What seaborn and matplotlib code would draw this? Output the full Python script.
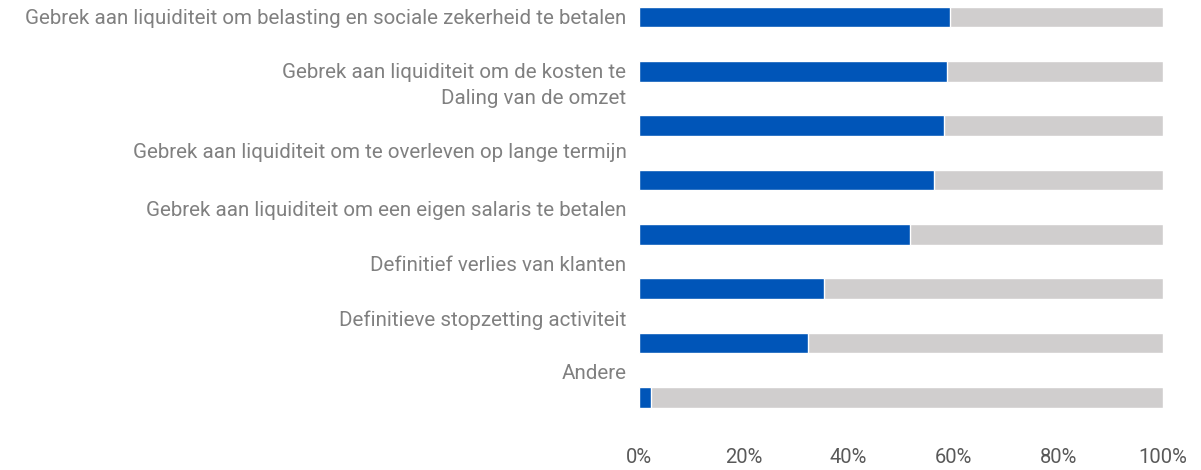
import pandas as pd
import matplotlib.pyplot as plt
import seaborn as sns

categories = [
    "Gebrek aan liquiditeit om belasting en sociale zekerheid te betalen",
    "Gebrek aan liquiditeit om de kosten te betalen",
    "Daling van de omzet",
    "Gebrek aan liquiditeit om te overleven op lange termijn",
    "Gebrek aan liquiditeit om een eigen salaris te betalen",
    "Definitief verlies van klanten",
    "Definitieve stopzetting activiteit",
    "Andere",
]
values = [59.4, 58.8, 58.2, 56.3, 51.7, 35.4, 32.3, 2.3]

# labels as they appear in the source (second one is truncated, rest sit half a row up)
tick_labels = [
    "Gebrek aan liquiditeit om belasting en sociale zekerheid te betalen",
    "Gebrek aan liquiditeit om de kosten te",
    "Daling van de omzet",
    "Gebrek aan liquiditeit om te overleven op lange termijn",
    "Gebrek aan liquiditeit om een eigen salaris te betalen",
    "Definitief verlies van klanten",
    "Definitieve stopzetting activiteit",
    "Andere",
]
tick_pos = [0, 0.98, 1.46, 2.46, 3.52, 4.54, 5.55, 6.53]
xticks = [0, 20, 40, 60, 80, 100]

df = pd.DataFrame({"cat": categories, "val": values, "total": [100] * len(values)})

sns.set_style("white")
plt.rcParams["font.family"] = ["Roboto", "DejaVu Sans"]

fig = plt.figure(figsize=(12.01, 4.70), dpi=100)
ax = fig.add_axes([639 / 1201, 40 / 470, 524 / 1201, 430 / 470])

sns.barplot(data=df, y="cat", x="total", color="#D0CECE", orient="h",
            width=0.38, saturation=1, ax=ax)
sns.barplot(data=df, y="cat", x="val", color="#0055B8", orient="h",
            width=0.38, saturation=1, ax=ax)

ax.set_xlim(0, 100)
ax.set_ylim(7.6, -0.31)
ax.set_xticks(xticks, [f"{t}%" for t in xticks])
ax.set_yticks(tick_pos, tick_labels)
ax.tick_params(axis="x", length=0, pad=13, labelsize=14.5, labelcolor="#595959")
ax.tick_params(axis="y", length=0, pad=9, labelsize=14.75, labelcolor="#808080")
ax.set_xlabel("")
ax.set_ylabel("")
sns.despine(ax=ax, left=True, bottom=True)

fig.savefig("out.png", dpi=100)
